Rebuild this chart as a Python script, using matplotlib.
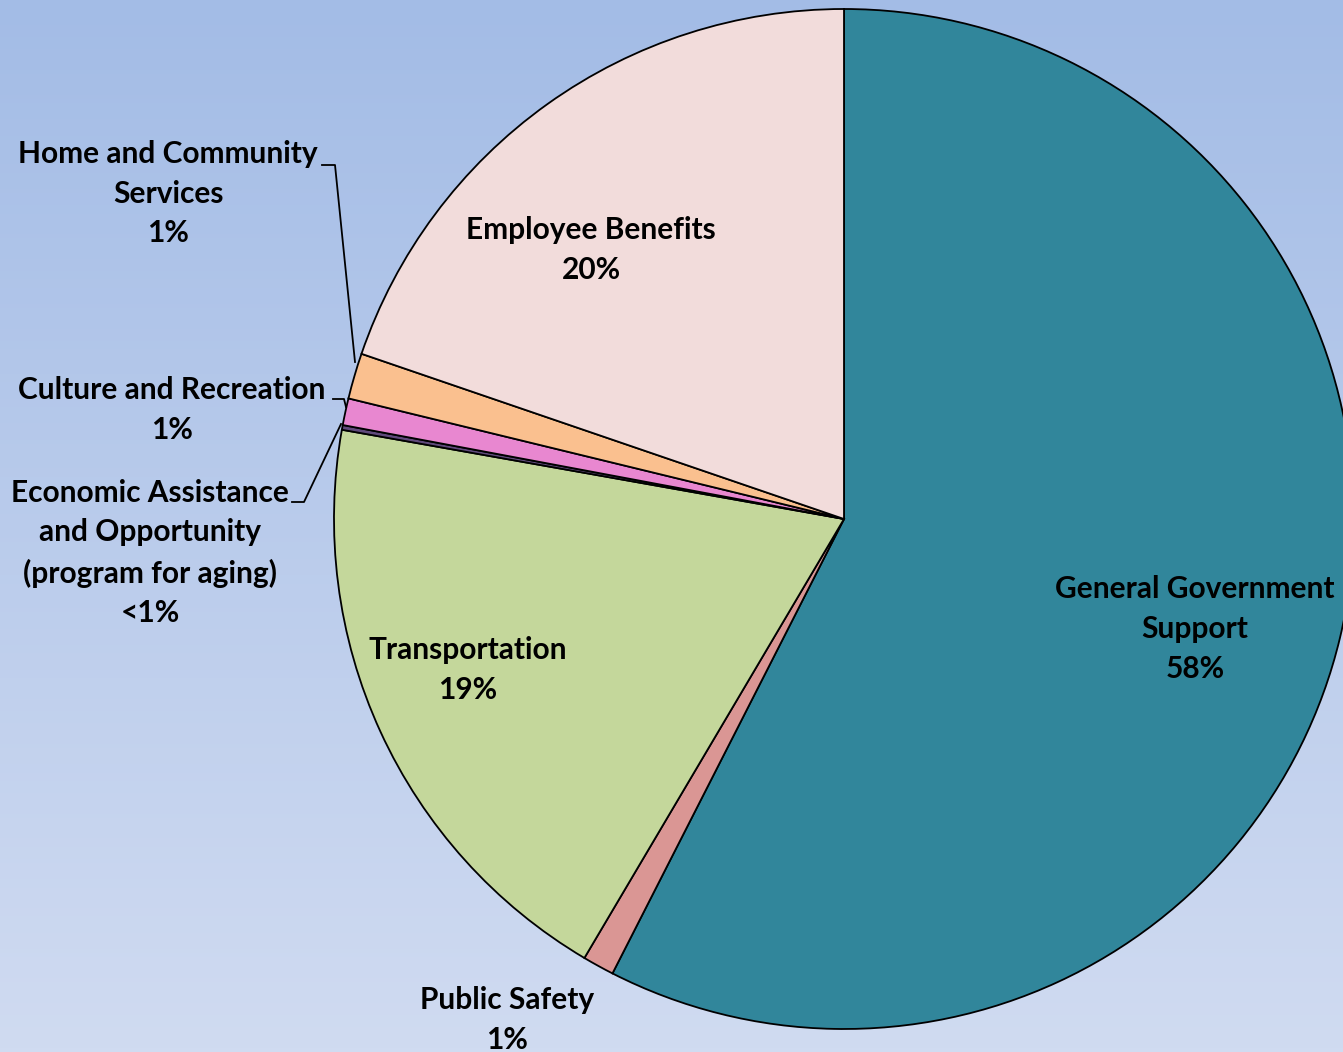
import numpy as np
import matplotlib
matplotlib.use("Agg")
from matplotlib import pyplot as plt

# budget share by function, clockwise from 12 o'clock
categories = ["General Government\nSupport", "Public Safety", "Transportation",
              "Economic Assistance\nand Opportunity\n(program for aging)",
              "Culture and Recreation", "Home and Community\nServices",
              "Employee Benefits"]
shares = [57.5, 1.0, 19.3, 0.15, 0.85, 1.45, 19.75]
pct_labels = ["58%", "1%", "19%", "<1%", "1%", "1%", "20%"]
colors = ["#31869B", "#DA9694", "#C4D79B", "#604A7B", "#E887D0", "#FAC08F", "#F2DCDB"]

W, H = 1343, 1052
plt.rcParams["font.family"] = ["Lato", "DejaVu Sans"]

fig = plt.figure(figsize=(W / 100, H / 100), dpi=100)
ax = fig.add_axes([0, 0, 1, 1])

# vertical background gradient
grad = np.linspace(0, 1, 256).reshape(-1, 1)
top = np.array([0xA3, 0xBC, 0xE6]) / 255
bot = np.array([0xD0, 0xDB, 0xF1]) / 255
img = top + grad[..., None] * (bot - top)
ax.imshow(img, extent=[0, W, 0, H], aspect="auto", origin="upper", zorder=0)

cx, cy, r = 844, H - 519, 510
ax.pie(shares, colors=colors, startangle=90, counterclock=False,
       center=(cx, cy), radius=r, frame=True,
       wedgeprops=dict(edgecolor="black", linewidth=1.3, zorder=2))

ax.set_xlim(0, W)
ax.set_ylim(0, H)
ax.set_aspect("auto")
ax.axis("off")

# label anchor points (pixel coords, y from top)
label_pos = [(1195, 629), (507, 1020), (468, 670), (150, 553),
             (172, 410), (168, 194), (591, 250)]
for name, pct, (x, y) in zip(categories, pct_labels, label_pos):
    ax.text(x, H - y, name + "\n" + pct, ha="center", va="center",
            fontsize=21.5, fontweight="bold", linespacing=1.5, zorder=5)

# leader lines for the thin slices
leaders = [
    [(322, 165), (335, 165), (355, 362)],
    [(333, 399), (344, 399), (346, 407)],
    [(292, 502), (304, 502), (341, 424)],
]
for pts in leaders:
    xs = [p[0] for p in pts]
    ys = [H - p[1] for p in pts]
    ax.plot(xs, ys, color="black", linewidth=1.3, zorder=4)

fig.savefig("out.png", dpi=100)
